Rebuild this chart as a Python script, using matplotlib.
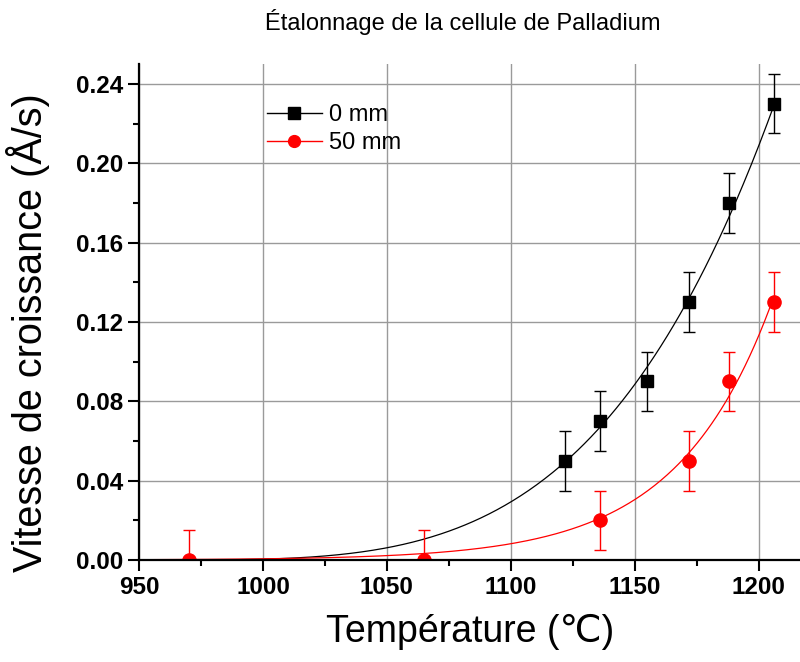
import numpy as np
import matplotlib
matplotlib.use("Agg")
import matplotlib.pyplot as plt
from matplotlib.ticker import MultipleLocator

plt.rcParams["font.family"] = ["Liberation Sans", "DejaVu Sans"]

# Data
t_0mm = np.array([1122, 1136, 1155, 1172, 1188, 1206])
v_0mm = np.array([0.05, 0.07, 0.09, 0.13, 0.18, 0.23])
err_0mm = np.array([0.015, 0.015, 0.015, 0.015, 0.015, 0.015])

t_50mm = np.array([970, 1065, 1136, 1172, 1188, 1206])
v_50mm = np.array([0.0, 0.0, 0.02, 0.05, 0.09, 0.13])
err_50mm = np.array([0.015, 0.015, 0.015, 0.015, 0.015, 0.015])

x_ticks = [950, 1000, 1050, 1100, 1150, 1200]
y_ticks = [0.00, 0.04, 0.08, 0.12, 0.16, 0.20, 0.24]

# Fit curves (drawn from 950 up to the last measured point)
xs = np.linspace(950, max(t_0mm.max(), t_50mm.max()), 400)
# 0 mm: power law starting at 950
n_b, ln_a = np.polyfit(np.log(t_0mm - 950), np.log(v_0mm), 1)
fit_0 = np.exp(ln_a) * (xs - 950) ** n_b
# 50 mm: exponential growth, least squares
best = None
for tau in np.linspace(20, 80, 601):
    f = np.exp((t_50mm - t_50mm.max()) / tau)
    A = (v_50mm @ f) / (f @ f)
    e = ((v_50mm - A * f) ** 2).sum()
    if best is None or e < best[0]:
        best = (e, tau, A)
_, tau, A = best
fit_50 = A * np.exp((xs - t_50mm.max()) / tau)

fig = plt.figure(figsize=(8, 6.62), dpi=100)
ax = fig.add_axes([139 / 800, 102 / 662, 1 - 139 / 800, 496 / 662])

ax.grid(True, which="major", color="#9a9a9a", linewidth=1.0)
ax.set_axisbelow(True)

ax.plot(xs, fit_0, color="black", linewidth=0.9)
ax.plot(xs, fit_50, color="red", linewidth=0.9)

ax.errorbar(t_0mm, v_0mm, yerr=err_0mm, fmt="none", ecolor="black",
            elinewidth=1.0, capsize=4, capthick=1.0)
ax.errorbar(t_50mm, v_50mm, yerr=err_50mm, fmt="none", ecolor="red",
            elinewidth=1.0, capsize=4, capthick=1.0)
ax.plot(t_0mm, v_0mm, "s", color="black", markersize=8.5, linestyle="none")
ax.plot(t_50mm, v_50mm, "o", color="red", markersize=9.5, linestyle="none")

h0, = ax.plot([], [], "-s", color="black", markersize=8, linewidth=1)
h50, = ax.plot([], [], "-o", color="red", markersize=8.5, linewidth=1)
ax.legend([h0, h50], ["0 mm", "50 mm"], loc="upper left",
          bbox_to_anchor=(0.194, 0.919), frameon=False, fontsize=17,
          handlelength=2.3, handletextpad=0.3, labelspacing=0.25,
          borderpad=0, borderaxespad=0)

ax.set_xlim(950, 1216.6)
ax.set_ylim(0, 0.25)
ax.set_xticks(x_ticks)
ax.set_yticks(y_ticks)
ax.xaxis.set_minor_locator(MultipleLocator(25))
ax.yaxis.set_minor_locator(MultipleLocator(0.02))
ax.set_yticklabels([f"{v:.2f}" for v in y_ticks])

for s in ["top", "right"]:
    ax.spines[s].set_visible(False)
for s in ["left", "bottom"]:
    ax.spines[s].set_linewidth(1.6)

ax.tick_params(which="major", direction="out", length=8, width=1.5,
               labelsize=17.5)
ax.tick_params(which="minor", direction="out", length=4.5, width=1.5)
for lab in ax.get_xticklabels() + ax.get_yticklabels():
    lab.set_fontweight("bold")

fig.text(463 / 800, 1 - 22 / 662, "Étalonnage de la cellule de Palladium",
         ha="center", va="center", fontsize=17)
fig.text(470 / 800, 1 - 632 / 662, "Température (℃)",
         ha="center", va="center", fontsize=27)
fig.text(28 / 800, 1 - 333 / 662, "Vitesse de croissance (Å/s)",
         ha="center", va="center", rotation=90, fontsize=28.5)

fig.savefig("out.png", dpi=100)
